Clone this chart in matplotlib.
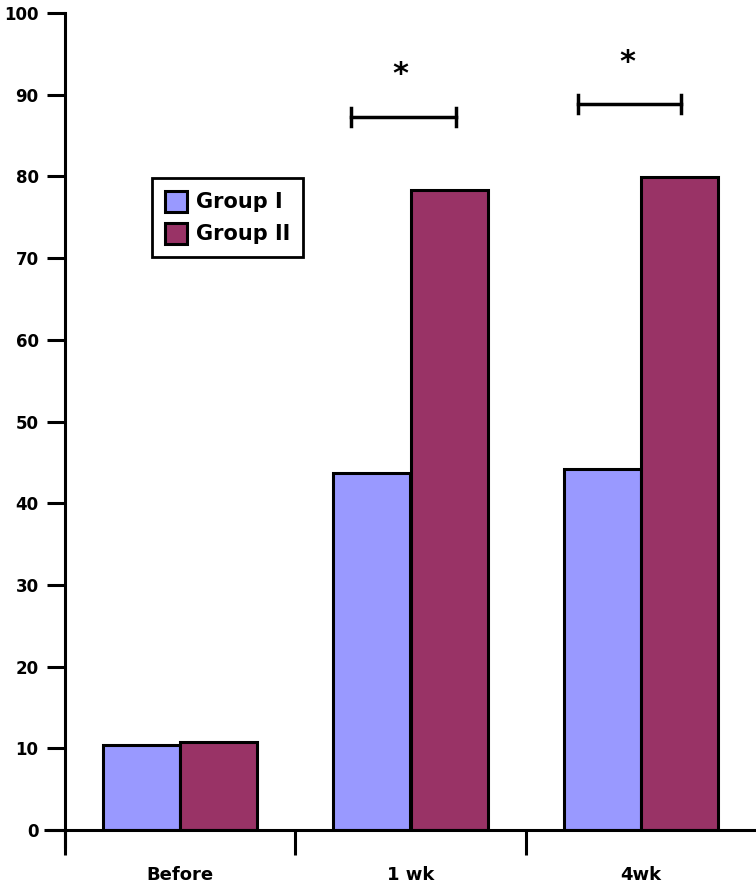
import matplotlib
matplotlib.use("Agg")
import matplotlib.pyplot as plt
import numpy as np

categories = ["Before", "1 wk", "4wk"]
group1 = [10.4, 43.7, 44.2]
group2 = [10.8, 78.3, 79.9]
series_names = ["Group I", "Group II"]
colors = ["#9999FF", "#993366"]
yticks = [0, 10, 20, 30, 40, 50, 60, 70, 80, 90, 100]

# significance brackets: (x start, x end, y level, star x, star y)
brackets = [(0.743, 1.196, 87.3, 0.957, 92.5),
            (1.726, 2.174, 88.9, 1.943, 93.9)]

plt.rcParams['font.family'] = ['DejaVu Sans']

fig = plt.figure(figsize=(7.56, 8.86), dpi=100)
ax = fig.add_axes([65/756, 1-830/886, 691/756, 817/886])

x = np.arange(len(categories))
w = 0.335
lw = 2.2
ax.bar(x - w/2, group1, width=w, color=colors[0], edgecolor="black", linewidth=lw, label=series_names[0])
ax.bar(x + w/2, group2, width=w, color=colors[1], edgecolor="black", linewidth=lw, label=series_names[1])

ax.set_xlim(-0.5, 2.5)
ax.set_ylim(0, 100)
ax.set_yticks(yticks)
ax.set_yticklabels([str(t) for t in yticks], fontsize=12, fontweight='bold')
ax.tick_params(axis='y', direction='out', length=13, width=2.2, pad=6)

ax.set_xticks(x)
ax.set_xticklabels(categories, fontsize=13, fontweight='bold')
ax.tick_params(axis='x', which='major', length=0, pad=26)
ax.set_xticks([-0.5, 0.5, 1.5], minor=True)
ax.tick_params(axis='x', which='minor', direction='out', length=18, width=2.2)

for s in ['top', 'right']:
    ax.spines[s].set_visible(False)
for s in ['left', 'bottom']:
    ax.spines[s].set_linewidth(2.2)

# extend axes lines beyond origin
ax.plot([-0.03, 0], [0, 0], transform=ax.transAxes, color='black', lw=2.2, clip_on=False, solid_capstyle='butt')
ax.plot([0, 0], [-0.022, 0], transform=ax.transAxes, color='black', lw=2.2, clip_on=False, solid_capstyle='butt')

for (x0, x1, yb, sx, sy) in brackets:
    ax.plot([x0, x1], [yb, yb], color='black', lw=2.5)
    ax.plot([x0, x0], [yb - 1.1, yb + 1.1], color='black', lw=2.5)
    ax.plot([x1, x1], [yb - 1.1, yb + 1.1], color='black', lw=2.5)
    ax.text(sx, sy, "*", ha='center', va='center', fontsize=22, fontweight='bold')

leg = ax.legend(loc='upper left', bbox_to_anchor=(0.126, 0.798),
                prop={'size': 15, 'weight': 'bold'},
                frameon=True, fancybox=False, edgecolor='black', framealpha=1,
                handlelength=1.1, handleheight=1.2, handletextpad=0.4,
                borderpad=0.6, labelspacing=0.5, borderaxespad=0)
leg.get_frame().set_linewidth(2)

fig.savefig("out.png", dpi=100)
